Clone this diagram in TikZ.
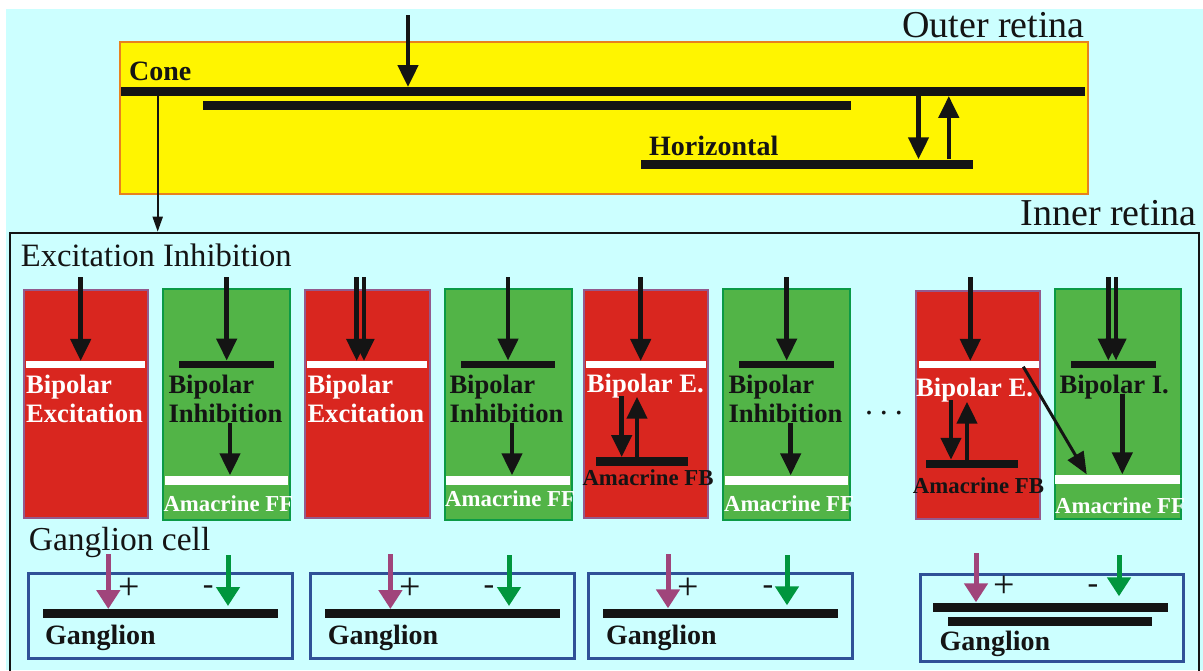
\documentclass[tikz,border=0pt]{standalone}
\usepackage{fontspec}
\setmainfont{Liberation Serif}
\usetikzlibrary{arrows.meta}
\definecolor{bgcyan}{HTML}{CCFFFF}
\definecolor{outyellow}{HTML}{FFF500}
\definecolor{outorange}{HTML}{E8811E}
\definecolor{cellred}{HTML}{D9261F}
\definecolor{cellredborder}{HTML}{935A8E}
\definecolor{cellgreen}{HTML}{52B447}
\definecolor{cellgreenborder}{HTML}{0B9A46}
\definecolor{ink}{HTML}{141414}
\definecolor{plusarrow}{HTML}{A0457B}
\definecolor{minusarrow}{HTML}{00963E}
\definecolor{gangblue}{HTML}{2F5197}
\begin{document}
\begin{tikzpicture}[x=1pt,y=-1pt,
  lbl/.style={inner sep=0pt, anchor=base west},
  bigtxt/.style={inner sep=0pt, text=ink, font=\fontsize{38}{40}\selectfont},
  midtxt/.style={lbl, text=ink, font=\fontsize{32.6}{36}\selectfont},
  celltxt/.style={lbl, font=\fontsize{26.6}{30}\selectfont\bfseries},
  amtxt/.style={lbl, font=\fontsize{22.8}{25}\selectfont\bfseries},
  boldtxt/.style={lbl, text=ink, font=\fontsize{28}{30}\selectfont\bfseries},
  signtxt/.style={inner sep=0pt, anchor=center, text=ink, font=\fontsize{38}{40}\selectfont},
  minustxt/.style={inner sep=0pt, anchor=center, text=ink, font=\fontsize{32}{34}\selectfont},
  cellbox/.style={anchor=north west, inner sep=0pt, line width=2pt},
  redcell/.style={cellbox, draw=cellredborder, fill=cellred},
  greencell/.style={cellbox, draw=cellgreenborder, fill=cellgreen},
  gbox/.style={anchor=north west, inner sep=0pt, draw=gangblue, line width=3pt},
  bar/.style={fill=ink, inner sep=0pt, minimum height=8.5pt},
  wbar/.style={fill=white, inner sep=0pt, minimum height=6.7pt},
  lwbar/.style={fill=white, inner sep=0pt, minimum height=9pt},
  arr/.style={draw=ink, line width=4.5pt, -{Triangle[width=20pt,length=22pt]}},
  thinarr/.style={draw=ink, line width=2pt, -{Triangle[width=10pt,length=15pt]}},
  diagarr/.style={draw=ink, line width=3pt, -{Triangle[width=18pt,length=22pt]}},
  plusarr/.style={draw=plusarrow, line width=5pt, -{Triangle[width=23pt,length=19pt]}},
  minusarr/.style={draw=minusarrow, line width=5pt, -{Triangle[width=23pt,length=19pt]}}
]
\useasboundingbox (0,0) rectangle (1203,670);
\clip (0,0) rectangle (1203,670);
\fill[white] (0,0) rectangle (1203,670);
\fill[bgcyan] (5.7,9) rectangle (1203,670);

% ---------------- Outer retina ----------------
\node[anchor=north west, inner sep=0pt, draw=outorange, fill=outyellow, line width=2pt,
      minimum width=968pt, minimum height=152pt] (outer) at (119,41) {};
\node[bigtxt, anchor=base east] (outerlbl) at (1085,37) {Outer retina};
\node[bar, minimum width=964pt] (cone) at (603,91.5) {};
\node[bar, minimum width=648pt, minimum height=9pt] (cone2) at (527,105.5) {};
\node[bar, minimum width=332pt, minimum height=9pt] (hor) at (807,164) {};
\node[boldtxt] (conelbl) at (129,80) {Cone};
\node[boldtxt] (horlbl) at (649,155) {Horizontal};
\coordinate (light) at (408,15);
\draw[arr] (light) -- (light |- cone.north);
\coordinate (hd) at (918.5,0);
\coordinate (hu) at (948.8,0);
\draw[arr] (cone.south -| hd) -- (hor.north -| hd);
\draw[arr] (hor.north -| hu) -- (cone.south -| hu);

% ---------------- Inner retina ----------------
\node[anchor=north west, inner sep=0pt, draw=ink, line width=2pt,
      minimum width=1189pt, minimum height=450pt] (inner) at (9,231.7) {};
\node[bigtxt, anchor=base east] (innerlbl) at (1197,225) {Inner retina};
\coordinate (conex) at (157.7,0);
\draw[thinarr] (cone.south -| conex) -- (inner.north -| conex);
\node[midtxt] (eilbl) at (20.7,266.7) {Excitation Inhibition};

% cells
\node[redcell, minimum width=123.7pt, minimum height=227.7pt] (c1) at (23.3,289) {};
\node[greencell, minimum width=126.7pt, minimum height=231.6pt] (c2) at (162,287.7) {};
\node[redcell, minimum width=125pt, minimum height=227.7pt] (c3) at (304.3,289) {};
\node[greencell, minimum width=127pt, minimum height=231.3pt] (c4) at (444,287.7) {};
\node[redcell, minimum width=124.6pt, minimum height=227.7pt] (c5) at (582.7,289) {};
\node[greencell, minimum width=126.7pt, minimum height=231.3pt] (c6) at (722.3,287.7) {};
\node[redcell, minimum width=123.7pt, minimum height=227.7pt] (c7) at (915.3,290) {};
\node[greencell, minimum width=126.3pt, minimum height=229.4pt] (c8) at (1053.7,288.3) {};

% upper bars
\node[wbar, minimum width=119.3pt] (w1) at (85.7,364.5) {};
\node[bar, minimum width=95pt, minimum height=7pt] (b2) at (226.5,364.3) {};
\node[wbar, minimum width=120.6pt] (w3) at (367,364.5) {};
\node[bar, minimum width=94.3pt, minimum height=7pt] (b4) at (507.8,364.3) {};
\node[wbar, minimum width=120pt] (w5) at (646,364.5) {};
\node[bar, minimum width=95pt, minimum height=7pt] (b6) at (786.5,364.3) {};
\node[wbar, minimum width=120pt] (w7) at (979,364.5) {};
\node[bar, minimum width=85pt, minimum height=7pt] (b8) at (1113.5,364.3) {};

% lower bars
\node[lwbar, minimum width=123pt] (l2) at (226.5,480) {};
\node[lwbar, minimum width=124pt] (l4) at (508,480) {};
\node[lwbar, minimum width=123.3pt] (l6) at (786.7,480) {};
\node[lwbar, minimum width=125pt] (l8) at (1117.5,479) {};
\node[bar, minimum width=92.3pt] (f5) at (642.2,461.5) {};
\node[bar, minimum width=91.7pt] (f7) at (971.8,464.2) {};

% cell labels
\node[celltxt, text=white] (t1a) at (26,393.3) {Bipolar};
\node[celltxt, text=white] (t1b) at (26,422.7) {Excitation};
\node[celltxt, text=ink] (t2a) at (168.3,393) {Bipolar};
\node[celltxt, text=ink] (t2b) at (168.3,422) {Inhibition};
\node[celltxt, text=white] (t3a) at (307.3,393.3) {Bipolar};
\node[celltxt, text=white] (t3b) at (307.3,422.7) {Excitation};
\node[celltxt, text=ink] (t4a) at (449.3,393) {Bipolar};
\node[celltxt, text=ink] (t4b) at (449.3,422) {Inhibition};
\node[celltxt, text=white] (t5a) at (586.7,392.3) {Bipolar E.};
\node[amtxt, text=ink] (t5b) at (582.3,485) {Amacrine FB};
\node[celltxt, text=ink] (t6a) at (728.3,393) {Bipolar};
\node[celltxt, text=ink] (t6b) at (728.3,422) {Inhibition};
\node[celltxt, text=white] (t7a) at (916,396) {Bipolar E.};
\node[amtxt, text=ink] (t7b) at (912.7,493.3) {Amacrine FB};
\node[celltxt, text=ink] (t8a) at (1059.3,393.3) {Bipolar I.};
\begin{scope}
  \clip (c2.north west) rectangle ([xshift=1pt]c2.south east);
  \node[amtxt, text=white] (a2) at (163.3,511.7) {Amacrine FF};
\end{scope}
\begin{scope}
  \clip (c4.north west) rectangle ([xshift=1pt]c4.south east);
  \node[amtxt, text=white] (a4) at (445,506.7) {Amacrine FF};
\end{scope}
\begin{scope}
  \clip (c6.north west) rectangle ([xshift=1pt]c6.south east);
  \node[amtxt, text=white] (a6) at (724,511.7) {Amacrine FF};
\end{scope}
\begin{scope}
  \clip (c8.north west) rectangle ([xshift=1pt]c8.south east);
  \node[amtxt, text=white] (a8) at (1055,513.3) {Amacrine FF};
\end{scope}
\node[inner sep=0pt, anchor=base, text=ink, font=\fontsize{32}{34}\selectfont] (dots) at (884,414) {.\hspace{7pt}.\hspace{7pt}.};

% input arrows
\coordinate (i1) at (80.7,277);
\coordinate (i2) at (226.7,277);
\coordinate (i3a) at (356.7,277);
\coordinate (i3b) at (364,277);
\coordinate (i4) at (508,277);
\coordinate (i5) at (640.7,277);
\coordinate (i6) at (786.7,277);
\coordinate (i7) at (970.3,277);
\coordinate (i8a) at (1108.3,277);
\coordinate (i8b) at (1116,277);
\draw[arr] (i1) -- (i1 |- w1.north);
\draw[arr] (i2) -- (i2 |- b2.north);
\draw[arr] (i3a) -- (i3a |- w3.north);
\draw[arr] (i3b) -- (i3b |- w3.north);
\draw[arr] (i4) -- (i4 |- b4.north);
\draw[arr] (i5) -- (i5 |- w5.north);
\draw[arr] (i6) -- (i6 |- b6.north);
\draw[arr] (i7) -- (i7 |- w7.north);
\draw[arr] (i8a) -- (i8a |- b8.north);
\draw[arr] (i8b) -- (i8b |- b8.north);

% inner arrows
\coordinate (d2) at (230,423.3);
\coordinate (d4) at (512,423.3);
\coordinate (d6) at (790.7,423.3);
\coordinate (d8) at (1122.3,394.3);
\draw[arr] (d2) -- (d2 |- l2.north);
\draw[arr] (d4) -- (d4 |- l4.north);
\draw[arr] (d6) -- (d6 |- l6.north);
\draw[arr] (d8) -- (d8 |- l8.north);
\coordinate (d5) at (621.7,396);
\coordinate (u5) at (637,396.7);
\draw[arr] (d5) -- (d5 |- f5.north);
\draw[arr] (u5 |- f5.north) -- (u5);
\coordinate (d7) at (951,400);
\coordinate (u7) at (967,401.7);
\draw[arr] (d7) -- (d7 |- f7.north);
\draw[arr] (u7 |- f7.north) -- (u7);
\coordinate (dg) at (1023.3,366.7);
\coordinate (dgx) at (1086.7,0);
\draw[diagarr] (dg) -- (l8.north -| dgx);

% ---------------- Ganglion ----------------
\node[midtxt, font=\fontsize{33.5}{36}\selectfont] (gclbl) at (28.7,550.7) {Ganglion cell};
\node[gbox, minimum width=264pt, minimum height=85.6pt] (g1) at (26.8,571.7) {};
\node[gbox, minimum width=264pt, minimum height=85.6pt] (g2) at (309,571.7) {};
\node[gbox, minimum width=264.4pt, minimum height=85.3pt] (g3) at (587,571.7) {};
\node[gbox, minimum width=263.5pt, minimum height=87pt] (g4) at (918.5,573) {};
\node[bar, minimum width=235pt, minimum height=9pt] (gb1) at (160.5,613.7) {};
\node[bar, minimum width=234.5pt, minimum height=9pt] (gb2) at (442.3,613.7) {};
\node[bar, minimum width=234.5pt, minimum height=9pt] (gb3) at (720.3,613) {};
\node[bar, minimum width=235pt, minimum height=9pt] (gb4a) at (1050.5,607) {};
\node[bar, minimum width=204.5pt, minimum height=9pt] (gb4b) at (1049.8,621.3) {};
\node[boldtxt] (gl1) at (45,644) {Ganglion};
\node[boldtxt] (gl2) at (327.6,644) {Ganglion};
\node[boldtxt] (gl3) at (606,644) {Ganglion};
\node[boldtxt] (gl4) at (939.5,650.7) {Ganglion};
\node[signtxt] (p1) at (129.7,588.3) {+};
\node[signtxt] (p2) at (410.6,588.3) {+};
\node[signtxt] (p3) at (688,588.3) {+};
\node[signtxt] (p4) at (1004,586.5) {+};
\node[minustxt] (m1) at (208.3,590) {-};
\node[minustxt] (m2) at (489,590) {-};
\node[minustxt] (m3) at (768,590) {-};
\node[minustxt] (m4) at (1093,589) {-};
\coordinate (pa1) at (108.3,554);
\coordinate (pa2) at (390.4,554);
\coordinate (pa3) at (668,554);
\coordinate (pa4) at (976,553);
\coordinate (ma1) at (228,555);
\coordinate (ma2) at (509,555);
\coordinate (ma3) at (787,555);
\coordinate (ma4) at (1119,555);
\draw[plusarr] (pa1) -- (pa1 |- gb1.north);
\draw[plusarr] (pa2) -- (pa2 |- gb2.north);
\draw[plusarr] (pa3) -- (pa3 |- gb3.north);
\draw[plusarr] (pa4) -- (pa4 |- gb4a.north);
\draw[minusarr] (ma1) -- ([yshift=3pt]ma1 |- gb1.north);
\draw[minusarr] (ma2) -- ([yshift=3pt]ma2 |- gb2.north);
\draw[minusarr] (ma3) -- ([yshift=3pt]ma3 |- gb3.north);
\draw[minusarr] (ma4) -- ([yshift=6pt]ma4 |- gb4a.north);
\end{tikzpicture}
\end{document}
